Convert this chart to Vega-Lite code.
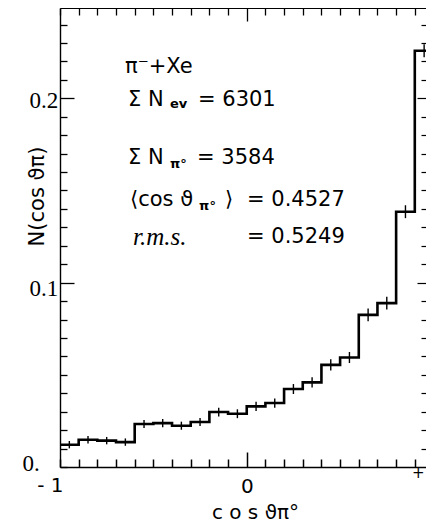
{
  "$schema": "https://vega.github.io/schema/vega-lite/v6.json",
  "autosize": "none",
  "padding": {"left": 60, "top": 8, "right": 0, "bottom": 65},
  "width": 366,
  "height": 459,
  "background": "white",
  "config": {"view": {"stroke": null}},
  "datasets": {
    "hist": [
      {"lo": -1.0, "hi": -0.9, "mid": -0.95, "n": 0.0121, "err": 0.0020},
      {"lo": -0.9, "hi": -0.8, "mid": -0.85, "n": 0.0148, "err": 0.0020},
      {"lo": -0.8, "hi": -0.7, "mid": -0.75, "n": 0.0143, "err": 0.0020},
      {"lo": -0.7, "hi": -0.6, "mid": -0.65, "n": 0.0135, "err": 0.0020},
      {"lo": -0.6, "hi": -0.5, "mid": -0.55, "n": 0.0233, "err": 0.0022},
      {"lo": -0.5, "hi": -0.4, "mid": -0.45, "n": 0.0238, "err": 0.0022},
      {"lo": -0.4, "hi": -0.3, "mid": -0.35, "n": 0.0224, "err": 0.0022},
      {"lo": -0.3, "hi": -0.2, "mid": -0.25, "n": 0.0244, "err": 0.0022},
      {"lo": -0.2, "hi": -0.1, "mid": -0.15, "n": 0.0298, "err": 0.0024},
      {"lo": -0.1, "hi": 0.0, "mid": -0.05, "n": 0.0289, "err": 0.0024},
      {"lo": 0.0, "hi": 0.1, "mid": 0.05, "n": 0.0329, "err": 0.0025},
      {"lo": 0.1, "hi": 0.2, "mid": 0.15, "n": 0.0347, "err": 0.0025},
      {"lo": 0.2, "hi": 0.3, "mid": 0.25, "n": 0.0423, "err": 0.0027},
      {"lo": 0.3, "hi": 0.4, "mid": 0.35, "n": 0.0459, "err": 0.0028},
      {"lo": 0.4, "hi": 0.5, "mid": 0.45, "n": 0.0554, "err": 0.0030},
      {"lo": 0.5, "hi": 0.6, "mid": 0.55, "n": 0.0594, "err": 0.0030},
      {"lo": 0.6, "hi": 0.7, "mid": 0.65, "n": 0.0825, "err": 0.0035},
      {"lo": 0.7, "hi": 0.8, "mid": 0.75, "n": 0.0889, "err": 0.0035},
      {"lo": 0.8, "hi": 0.9, "mid": 0.85, "n": 0.1385, "err": 0.0035},
      {"lo": 0.9, "hi": 1.0, "mid": 0.95, "n": 0.2258, "err": 0.0035}
    ],
    "notes": [
      {"x": -0.652, "y": 0.2172, "t": "π⁻+Xe"},
      {"x": -0.636, "y": 0.1991, "t": "Σ N"},
      {"x": -0.261, "y": 0.1991, "t": "= 6301"},
      {"x": -0.636, "y": 0.1676, "t": "Σ N"},
      {"x": -0.266, "y": 0.1676, "t": "= 3584"},
      {"x": -0.625, "y": 0.1449, "t": "⟨cos ϑ"},
      {"x": -0.116, "y": 0.1449, "t": "⟩"},
      {"x": 0.0016, "y": 0.1449, "t": "= 0.4527"},
      {"x": 0.0016, "y": 0.1248, "t": "= 0.5249"}
    ],
    "subs": [
      {"x": -0.411, "y": 0.1968, "t": "ev"},
      {"x": -0.411, "y": 0.1645, "t": "π°"},
      {"x": -0.255, "y": 0.1418, "t": "π°"}
    ],
    "rms": [
      {"x": -0.609, "y": 0.1248, "t": "r.m.s."}
    ]
  },
  "resolve": {"axis": {"x": "independent", "y": "independent"}},
  "layer": [
    {
      "data": {"name": "hist"},
      "transform": [
        {"fold": ["lo", "hi"], "as": ["edge", "xe"]},
        {"window": [{"op": "row_number", "as": "ord"}]}
      ],
      "mark": {"type": "line", "color": "black", "strokeWidth": 2.6, "clip": true, "strokeJoin": "miter"},
      "encoding": {
        "x": {
          "field": "xe", "type": "quantitative",
          "scale": {"domain": [-1, 0.96], "nice": false, "zero": false},
          "axis": {
            "orient": "bottom",
            "values": [-1, -0.9, -0.8, -0.7, -0.6, -0.5, -0.4, -0.3, -0.2, -0.1, 0, 0.1, 0.2, 0.3, 0.4, 0.5, 0.6, 0.7, 0.8, 0.9],
            "grid": false,
            "domain": true, "domainColor": "black", "domainWidth": 1.6,
            "tickColor": "black", "tickWidth": 1.5,
            "tickSize": {"condition": {"test": "datum.value == 0", "value": -15}, "value": -8},
            "labelExpr": "datum.value == -1 ? '- 1' : datum.value == 0 ? '0' : (abs(datum.value - 0.9) < 0.001 ? '+' : '')",
            "labelFont": "DejaVu Sans",
            "labelFontSize": {"condition": {"test": "abs(datum.value - 0.9) < 0.001", "value": 15}, "value": 20},
            "labelAlign": {"condition": {"test": "datum.value == -1", "value": "right"}, "value": "center"},
            "labelOffset": {"condition": [{"test": "datum.value == -1", "value": 3}, {"test": "abs(datum.value - 0.9) < 0.001", "value": 3}], "value": 0},
            "labelPadding": {"condition": [{"test": "abs(datum.value - 0.9) < 0.001", "value": 6}, {"test": "datum.value == 0", "value": 24}], "value": 16},
            "labelColor": "black",
            "labelFlush": false,
            "labelOverlap": false,
            "title": "c o s  ϑπ°",
            "titleFont": "DejaVu Sans",
            "titleFontSize": 20,
            "titleFontWeight": "normal",
            "titleColor": "black",
            "titleX": 195,
            "titleY": 51,
            "titleBaseline": "alphabetic"
          }
        },
        "y": {
          "field": "n", "type": "quantitative",
          "scale": {"domain": [0, 0.249], "nice": false},
          "axis": {
            "orient": "left",
            "values": [0, 0.01, 0.02, 0.03, 0.04, 0.05, 0.06, 0.07, 0.08, 0.09, 0.1, 0.11, 0.12, 0.13, 0.14, 0.15, 0.16, 0.17, 0.18, 0.19, 0.2, 0.21, 0.22, 0.23, 0.24],
            "grid": false,
            "domain": true, "domainColor": "black", "domainWidth": 1.4,
            "tickColor": "black", "tickWidth": 1.3,
            "tickSize": {"condition": {"test": "datum.value == 0.1 || datum.value == 0.2", "value": -14}, "value": -7},
            "labelExpr": "datum.value == 0 ? '0.' : datum.value == 0.1 ? '0.1' : datum.value == 0.2 ? '0.2' : ''",
            "labelFont": "Liberation Serif",
            "labelFontSize": 23,
            "labelColor": "black",
            "labelAlign": "left",
            "labelBaseline": "middle",
            "labelOffset": {"condition": [{"test": "datum.value == 0", "value": -4}, {"test": "datum.value == 0.1", "value": 6}], "value": 2},
            "labelFlush": false,
            "labelOverlap": false,
            "labelPadding": 45,
            "title": "N(cos ϑπ)",
            "titleFont": "DejaVu Sans",
            "titleFontSize": 21,
            "titleFontWeight": "normal",
            "titleColor": "black",
            "titleX": -23,
            "titleY": 188,
            "titleBaseline": "middle",
            "titleAngle": -90
          }
        },
        "order": {"field": "ord", "type": "quantitative"}
      }
    },
    {
      "data": {"name": "hist"},
      "mark": {"type": "errorbar", "color": "black", "thickness": 1.4},
      "encoding": {
        "x": {
          "field": "mid", "type": "quantitative",
          "axis": {
            "orient": "top",
            "values": [-1, -0.9, -0.8, -0.7, -0.6, -0.5, -0.4, -0.3, -0.2, -0.1, 0, 0.1, 0.2, 0.3, 0.4, 0.5, 0.6, 0.7, 0.8, 0.9],
            "grid": false,
            "domain": true, "domainColor": "black", "domainWidth": 1.2,
            "tickColor": "black", "tickWidth": 1.3,
            "tickSize": {"condition": {"test": "datum.value == 0", "value": -13}, "value": -7},
            "labels": false,
            "title": null
          }
        },
        "y": {
          "field": "n", "type": "quantitative",
          "axis": {
            "orient": "right",
            "values": [0.01, 0.02, 0.03, 0.04, 0.05, 0.06, 0.07, 0.08, 0.09, 0.1, 0.11, 0.12, 0.13, 0.14, 0.15, 0.16, 0.17, 0.18, 0.19, 0.2, 0.21, 0.22, 0.23, 0.24],
            "grid": false,
            "domain": false,
            "tickColor": "black", "tickWidth": 1.2,
            "tickSize": {"condition": {"test": "datum.value == 0.1 || datum.value == 0.2", "value": -9}, "value": -5},
            "labels": false,
            "title": null
          }
        },
        "yError": {"field": "err"}
      }
    },
    {
      "data": {"name": "notes"},
      "mark": {"type": "text", "font": "DejaVu Sans", "fontSize": 21, "align": "left", "baseline": "middle", "color": "black"},
      "encoding": {
        "x": {"field": "x", "type": "quantitative", "axis": null},
        "y": {"field": "y", "type": "quantitative", "axis": null},
        "text": {"field": "t"}
      }
    },
    {
      "data": {"name": "subs"},
      "mark": {"type": "text", "font": "DejaVu Sans", "fontSize": 13, "fontWeight": "bold", "align": "left", "baseline": "middle", "color": "black"},
      "encoding": {
        "x": {"field": "x", "type": "quantitative", "axis": null},
        "y": {"field": "y", "type": "quantitative", "axis": null},
        "text": {"field": "t"}
      }
    },
    {
      "data": {"name": "rms"},
      "mark": {"type": "text", "font": "Liberation Serif", "fontStyle": "italic", "fontSize": 25, "align": "left", "baseline": "middle", "color": "black"},
      "encoding": {
        "x": {"field": "x", "type": "quantitative", "axis": null},
        "y": {"field": "y", "type": "quantitative", "axis": null},
        "text": {"field": "t"}
      }
    }
  ]
}
